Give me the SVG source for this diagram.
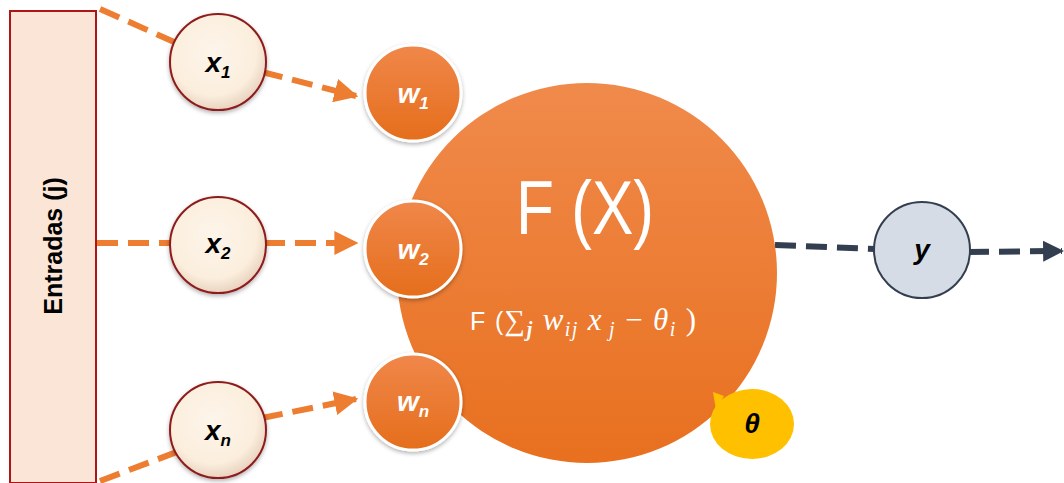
<svg xmlns="http://www.w3.org/2000/svg" width="1064" height="483" viewBox="0 0 1064 483">
<defs>
<radialGradient id="gx" cx="0.45" cy="0.4" r="0.6">
<stop offset="0" stop-color="#FDF5EA"/>
<stop offset="0.75" stop-color="#FBEEDD"/>
<stop offset="1" stop-color="#E9D3C0"/>
</radialGradient>
<linearGradient id="go" x1="0" y1="0" x2="0" y2="1">
<stop offset="0" stop-color="#F08A4B"/>
<stop offset="1" stop-color="#E8701F"/>
</linearGradient>
<linearGradient id="gw" x1="0" y1="0" x2="0" y2="1">
<stop offset="0" stop-color="#F0874A"/>
<stop offset="1" stop-color="#E56E1C"/>
</linearGradient>
<filter id="sh" x="-30%" y="-30%" width="160%" height="160%">
<feDropShadow dx="0" dy="2" stdDeviation="2" flood-color="#000" flood-opacity="0.3"/>
</filter>
<marker id="ao" viewBox="0 0 10 10" refX="9" refY="5" markerWidth="4" markerHeight="4" orient="auto" markerUnits="strokeWidth">
<path d="M0,0 L10,5 L0,10 z" fill="#ED7D31"/>
</marker>
<marker id="ad" viewBox="0 0 10 10" refX="9" refY="5" markerWidth="3.5" markerHeight="5" orient="auto" markerUnits="strokeWidth">
<path d="M0,0 L10,5 L0,10 z" fill="#333F50"/>
</marker>
</defs>
<style>
.co{stroke:#ED7D31;stroke-width:6;stroke-dasharray:21 10;fill:none}
.cd{stroke:#333F50;stroke-width:6;stroke-dasharray:21 10;fill:none}
.xc{fill:url(#gx);stroke:#8E1B1B;stroke-width:2;filter:url(#sh)}
.wc{fill:url(#gw);stroke:#FFFFFF;stroke-width:3;filter:url(#sh)}
.lb{font-family:"Liberation Sans",Arial,sans-serif;font-weight:bold;font-style:italic;font-size:28px;text-anchor:middle}
.sb{font-size:17px}
</style>
<g id="connectors">
<line class="co" x1="100" y1="9" x2="190" y2="49"/>
<line class="co" x1="262" y1="72" x2="356" y2="96" marker-end="url(#ao)"/>
<line class="co" x1="97" y1="243" x2="172" y2="243"/>
<line class="co" x1="264" y1="243" x2="356" y2="243" marker-end="url(#ao)"/>
<line class="co" x1="100" y1="481" x2="190" y2="447"/>
<line class="co" x1="262" y1="418" x2="356" y2="399" marker-end="url(#ao)"/>
<line class="cd" x1="775" y1="245" x2="875" y2="249"/>
<line class="cd" x1="968" y1="252" x2="1062" y2="251" marker-end="url(#ad)"/>
</g>
<g id="entradas">
<rect x="10" y="11" width="86" height="472" fill="#FBE5D6" stroke="#B01515" stroke-width="2"/>
<text x="0" y="0" transform="translate(62,246) rotate(-90)" font-family="'Liberation Sans',Arial,sans-serif" font-weight="bold" font-size="25" text-anchor="middle" fill="#000">Entradas (j)</text>
</g>
<g id="x1"><circle class="xc" cx="218" cy="62" r="48"/><text class="lb" x="218" y="72">x<tspan class="sb" dy="6">1</tspan></text></g>
<g id="x2"><circle class="xc" cx="218" cy="245" r="48"/><text class="lb" x="218" y="253">x<tspan class="sb" dy="6">2</tspan></text></g>
<g id="xn"><circle class="xc" cx="218" cy="430" r="48"/><text class="lb" x="218" y="440">x<tspan class="sb" dy="6">n</tspan></text></g>
<g id="neuron">
<circle cx="587" cy="273" r="190" fill="url(#go)"/>
<text x="585" y="234" font-family="'Liberation Sans',Arial,sans-serif" font-size="76" fill="#FFFFFF" text-anchor="middle" textLength="138" lengthAdjust="spacingAndGlyphs">F (X)</text>
<text x="470" y="330" font-family="'Liberation Serif','DejaVu Serif',serif" font-size="31" fill="#FFFFFF" textLength="226"><tspan font-family="'Liberation Sans',sans-serif" font-size="25">F (</tspan><tspan font-size="29">∑</tspan><tspan font-style="italic" font-weight="bold" font-size="20" dy="6">j</tspan><tspan font-style="italic" dy="-6"> w</tspan><tspan font-style="italic" font-size="20" dy="6">ij</tspan><tspan font-style="italic" dy="-6"> x</tspan><tspan font-style="italic" font-size="20" dy="6"> j</tspan><tspan dy="-6"> −  </tspan><tspan font-style="italic">θ</tspan><tspan font-style="italic" font-size="20" dy="6">i</tspan><tspan dy="-6"> )</tspan></text>
</g>
<g id="w1"><circle class="wc" cx="413" cy="93" r="48"/><text class="lb" x="413" y="103" fill="#FFFFFF">w<tspan class="sb" dy="6">1</tspan></text></g>
<g id="w2"><circle class="wc" cx="413" cy="249" r="48"/><text class="lb" x="413" y="259" fill="#FFFFFF">w<tspan class="sb" dy="6">2</tspan></text></g>
<g id="wn"><circle class="wc" cx="413" cy="402" r="48"/><text class="lb" x="413" y="411" fill="#FFFFFF">w<tspan class="sb" dy="6">n</tspan></text></g>
<g id="theta">
<path d="M713,392 L724,396 L716,410 Z" fill="#FFC000"/>
<ellipse cx="752" cy="424" rx="42" ry="35" fill="#FFC000"/>
<text class="lb" x="752" y="433" fill="#000">θ</text>
</g>
<g id="y"><circle cx="922" cy="250" r="48" fill="#D6DCE5" stroke="#333F50" stroke-width="2"/><text class="lb" x="922" y="259" fill="#000">y</text></g>
</svg>
